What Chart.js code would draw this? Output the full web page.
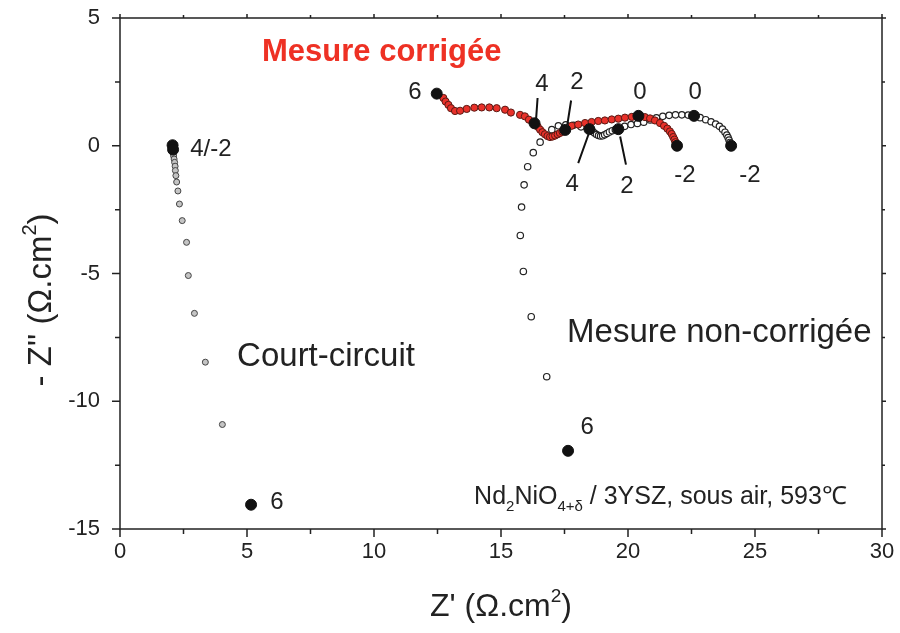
<!DOCTYPE html>
<html>
<head>
<meta charset="utf-8">
<script src="https://cdn.jsdelivr.net/npm/chart.js@4.4.0/dist/chart.umd.min.js"></script>
<style>
  html, body { margin: 0; padding: 0; background: #fff; }
  #wrap { width: 900px; height: 633px; position: relative; }
</style>
</head>
<body>
<div id="wrap"><canvas id="nyquist"></canvas></div>
<script>
// Z' and -Z'' (ohm.cm2)
const courtX = [2.10, 2.11, 2.13, 2.15, 2.17, 2.18, 2.20, 2.23, 2.28, 2.34, 2.45, 2.62, 2.69, 2.93, 3.36, 4.03];
const courtY = [-0.30, -0.40, -0.52, -0.65, -0.80, -0.97, -1.17, -1.42, -1.77, -2.28, -2.93, -3.78, -5.08, -6.56, -8.47, -10.91];

const rawX = [16.80, 16.19, 15.88, 15.76, 15.81, 15.91, 16.05, 16.27, 16.54, 17.00, 17.26, 17.55, 17.85, 18.15,
  18.60, 18.68, 18.76, 18.84, 18.92, 19.00, 19.08, 19.17, 19.27, 19.38, 19.50,
  19.87, 20.12, 20.37, 20.62, 20.87, 21.12, 21.37, 21.62, 21.87, 22.12, 22.37,
  22.84, 23.06, 23.27, 23.45, 23.60, 23.72, 23.82, 23.89, 23.94, 23.98, 24.01];
const rawY = [-9.04, -6.69, -4.92, -3.51, -2.40, -1.53, -0.82, -0.27, 0.14, 0.63, 0.78, 0.82, 0.80, 0.74,
  0.57, 0.50, 0.44, 0.40, 0.38, 0.39, 0.43, 0.48, 0.54, 0.59, 0.63,
  0.76, 0.83, 0.87, 0.92, 1.01, 1.09, 1.15, 1.19, 1.21, 1.21, 1.20,
  1.10, 1.02, 0.94, 0.85, 0.76, 0.65, 0.53, 0.42, 0.32, 0.22, 0.13];

const corrX = [12.73, 12.82, 12.93, 13.03, 13.19, 13.39, 13.65, 13.95, 14.24, 14.54, 14.83, 15.16, 15.39, 15.75, 15.94, 16.10,
  16.45, 16.54, 16.63, 16.73, 16.83, 16.93, 17.03, 17.13, 17.23, 17.32, 17.42,
  17.78, 18.04, 18.31, 18.57, 18.83, 19.09, 19.36, 19.62, 19.88, 20.15,
  20.67, 20.87, 21.06, 21.26, 21.42, 21.55, 21.65, 21.72, 21.78, 21.83, 21.87];
const corrY = [1.87, 1.73, 1.60, 1.47, 1.36, 1.37, 1.44, 1.49, 1.50, 1.50, 1.47, 1.41, 1.30, 1.21, 1.15, 1.02,
  0.74, 0.63, 0.53, 0.45, 0.38, 0.34, 0.36, 0.40, 0.45, 0.50, 0.55,
  0.78, 0.83, 0.89, 0.93, 0.97, 0.99, 1.03, 1.06, 1.10, 1.13,
  1.12, 1.07, 0.99, 0.89, 0.78, 0.67, 0.56, 0.46, 0.34, 0.24, 0.14];

// frequency decades (log f = 6, 4, 2, 0, -2) shown as black dots
const decadeX = [2.07, 2.09, 5.16, 17.64, 18.48, 19.62, 22.60, 24.06, 12.47, 16.32, 17.53, 20.41, 21.93];
const decadeY = [0.02, -0.15, -14.05, -11.94, 0.65, 0.65, 1.17, 0.00, 2.04, 0.88, 0.62, 1.17, 0.00];

const xTicks = [0, 5, 10, 15, 20, 25, 30];
const yTicks = [5, 0, -5, -10, -15];

const decadeLabels = [
  { t: '6', x: 11.61, y: 2.07 }, { t: '4', x: 16.61, y: 2.39 }, { t: '2', x: 17.99, y: 2.50 },
  { t: '0', x: 20.47, y: 2.07 }, { t: '0', x: 22.64, y: 2.07 },
  { t: '4', x: 17.80, y: -1.53 }, { t: '2', x: 19.96, y: -1.60 },
  { t: '-2', x: 22.24, y: -1.14 }, { t: '-2', x: 24.80, y: -1.14 },
  { t: '4/-2', x: 3.58, y: -0.16 }, { t: '6', x: 6.18, y: -13.97 }, { t: '6', x: 18.39, y: -11.04 }
];
const leaders = [
  [16.44, 1.87, 16.38, 1.02], [17.76, 1.77, 17.61, 0.82],
  [18.44, 0.43, 18.04, -0.68], [19.69, 0.36, 19.92, -0.74]
];

const FONT = '"Liberation Sans", Arial, sans-serif';
const pts = (xs, ys) => xs.map((x, i) => ({ x: x, y: ys[i] }));

function rich(ctx, parts, x, y, size, align) {
  let w = 0;
  const f = m => (m ? Math.round(size * 0.6) : size) + 'px ' + FONT;
  parts.forEach(p => { ctx.font = f(p[1]); p.w = ctx.measureText(p[0]).width; w += p.w; });
  let cx = align === 'center' ? x - w / 2 : x;
  parts.forEach(p => {
    ctx.font = f(p[1]);
    const dy = p[1] === 1 ? size * 0.28 : (p[1] === 2 ? -size * 0.45 : 0);
    ctx.fillText(p[0], cx, y + dy);
    cx += p.w;
  });
}

const decor = {
  id: 'decor',
  afterDatasetsDraw(chart) {
    const ctx = chart.ctx, a = chart.chartArea;
    const sx = chart.scales.x, sy = chart.scales.y;
    ctx.save();
    ctx.strokeStyle = '#222';
    ctx.lineWidth = 1.5;
    ctx.strokeRect(a.left, a.top, a.right - a.left, a.bottom - a.top);
    ctx.beginPath();
    for (let v = 0; v <= 30; v += 2.5) {
      const px = sx.getPixelForValue(v), big = v % 5 === 0;
      ctx.moveTo(px, a.bottom); ctx.lineTo(px, a.bottom + (big ? 8 : 5));
      ctx.moveTo(px, a.top); ctx.lineTo(px, a.top - (big ? 4 : 3));
    }
    for (let v = -15; v <= 5; v += 2.5) {
      const py = sy.getPixelForValue(v), big = v % 5 === 0;
      ctx.moveTo(a.left, py); ctx.lineTo(a.left - (big ? 8 : 5), py);
      ctx.moveTo(a.right, py); ctx.lineTo(a.right + (big ? 4 : 3), py);
    }
    ctx.stroke();

    // leader lines to decade dots
    ctx.lineWidth = 2;
    ctx.strokeStyle = '#111';
    ctx.beginPath();
    leaders.forEach(l => {
      ctx.moveTo(sx.getPixelForValue(l[0]), sy.getPixelForValue(l[1]));
      ctx.lineTo(sx.getPixelForValue(l[2]), sy.getPixelForValue(l[3]));
    });
    ctx.stroke();

    ctx.fillStyle = '#222';
    ctx.textAlign = 'center';
    ctx.textBaseline = 'middle';
    ctx.font = '24px ' + FONT;
    decadeLabels.forEach(l => ctx.fillText(l.t, sx.getPixelForValue(l.x), sy.getPixelForValue(l.y)));

    ctx.textAlign = 'left';
    ctx.textBaseline = 'alphabetic';
    ctx.font = '33px ' + FONT;
    ctx.fillText('Court-circuit', sx.getPixelForValue(4.61), sy.getPixelForValue(-8.61));
    ctx.fillText('Mesure non-corrigée', sx.getPixelForValue(17.60), sy.getPixelForValue(-7.67));
    ctx.fillStyle = '#ee3124';
    ctx.font = 'bold 31px ' + FONT;
    ctx.fillText('Mesure corrigée', sx.getPixelForValue(5.59), sy.getPixelForValue(3.33));

    ctx.fillStyle = '#222';
    rich(ctx, [['Nd', 0], ['2', 1], ['NiO', 0], ['4+δ', 1], [' / 3YSZ, sous air, 593℃', 0]],
      sx.getPixelForValue(13.94), sy.getPixelForValue(-14.01), 25, 'left');

    // axis titles
    rich(ctx, [["Z' (Ω.cm", 0], ['2', 2], [')', 0]], (a.left + a.right) / 2, 616, 32, 'center');
    ctx.translate(51, 300);
    ctx.rotate(-Math.PI / 2);
    rich(ctx, [["- Z'' (Ω.cm", 0], ['2', 2], [')', 0]], 0, 0, 33, 'center');
    ctx.restore();
  }
};

new Chart(document.getElementById('nyquist'), {
  type: 'scatter',
  data: {
    datasets: [
      { data: pts(decadeX, decadeY), pointRadius: 5.5, pointBackgroundColor: '#111', pointBorderColor: '#111', pointBorderWidth: 1 },
      { data: pts(corrX, corrY), pointRadius: 3.6, pointBackgroundColor: '#e8312a', pointBorderColor: '#5a1a14', pointBorderWidth: 1 },
      { data: pts(rawX, rawY), pointRadius: 3.2, pointBackgroundColor: '#fff', pointBorderColor: '#222', pointBorderWidth: 1.2 },
      { data: pts(courtX, courtY), pointRadius: 3, pointBackgroundColor: '#c4c4c4', pointBorderColor: '#444', pointBorderWidth: 1 }
    ]
  },
  options: {
    responsive: true,
    maintainAspectRatio: false,
    animation: false,
    layout: { padding: { left: 0, right: 18, top: 18, bottom: 0 } },
    plugins: { legend: { display: false }, tooltip: { enabled: false } },
    scales: {
      x: {
        type: 'linear', min: 0, max: 30,
        afterBuildTicks: s => { s.ticks = xTicks.map(v => ({ value: v })); },
        afterFit: s => { s.height = 104; s.paddingLeft = 0; s.paddingRight = 0; },
        ticks: { font: { family: FONT, size: 22 }, color: '#222', padding: 2, maxRotation: 0 },
        grid: { display: false }, border: { display: false }
      },
      y: {
        type: 'linear', min: -15, max: 5,
        afterBuildTicks: s => { s.ticks = yTicks.map(v => ({ value: v })); },
        afterFit: s => { s.width = 120; s.paddingTop = 0; s.paddingBottom = 0; },
        ticks: { font: { family: FONT, size: 22 }, color: '#222', padding: 12 },
        grid: { display: false }, border: { display: false }
      }
    }
  },
  plugins: [decor]
});
</script>
</body>
</html>
